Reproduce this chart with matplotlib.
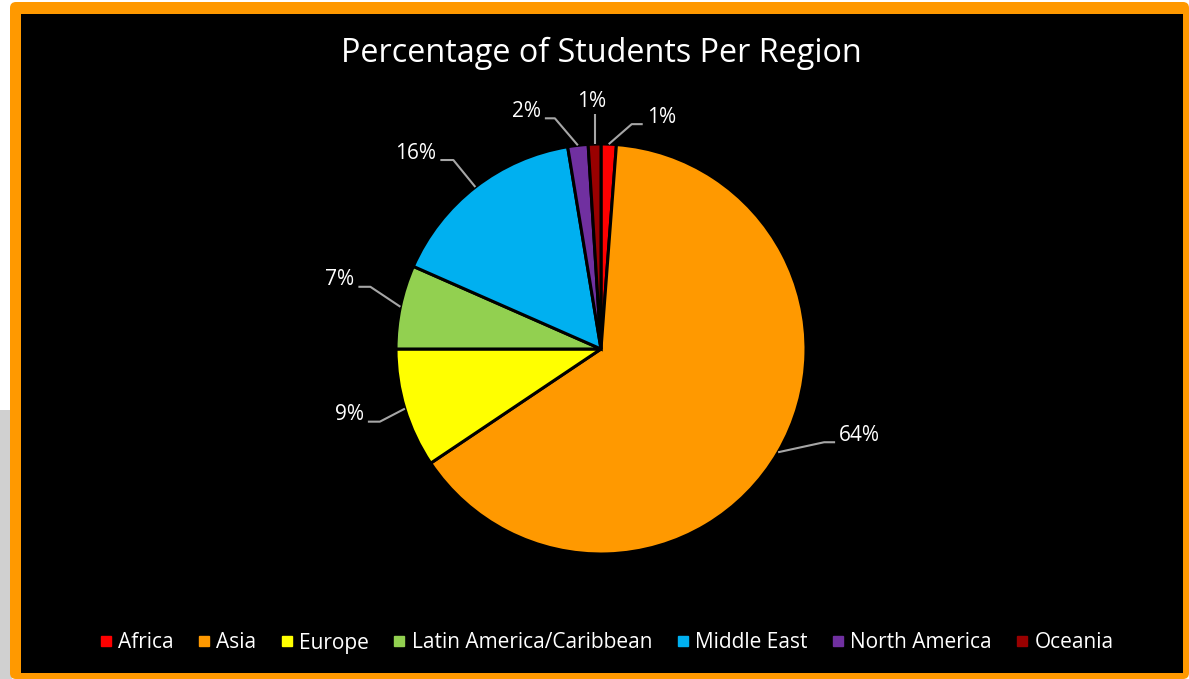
import matplotlib.pyplot as plt
import numpy as np
from matplotlib.patches import FancyBboxPatch, Rectangle
from matplotlib.lines import Line2D

# Données
regions = ["Africa", "Asia", "Europe", "Latin America/Caribbean",
           "Middle East", "North America", "Oceania"]
shares = [1.2, 64.4, 9.4, 6.6, 15.8, 1.6, 1.0]
pct_labels = ["1%", "64%", "9%", "7%", "16%", "2%", "1%"]
colors = ["#FF0000", "#FF9900", "#FFFF00", "#92D050",
          "#00B0F0", "#7030A0", "#990000"]

# Lignes de rappel : coude (dx, dy) depuis le bord, puis segment horizontal
elbow = [(23, 20), (46, 10), (-25, -13), (-30, 20), (-22, 27), (-23, 27), (0, 30)]
run = [11, 11, -12, -12, -13, -10, 0]

W, H = 1189, 679
FONT = "Open Sans"
ORANGE = "#FF9900"

fig = plt.figure(figsize=(W / 100, H / 100), dpi=100, facecolor="white")
ax = fig.add_axes([0, 0, 1, 1])

# fond : ombre grise, cadre orange, zone noire
ax.add_patch(Rectangle((0, 0), 12, H - 410, facecolor="#D0D0D0", edgecolor="none", zorder=0))
ax.add_patch(FancyBboxPatch((10, 0), W - 10, H - 2, boxstyle="round,pad=0,rounding_size=6",
                            facecolor=ORANGE, edgecolor="none", zorder=1))
ax.add_patch(Rectangle((21, 6), 1162, 659, facecolor="black", edgecolor="none", zorder=2))

cx, cy, R = 601, 330, 205
wedges, _ = ax.pie(shares, colors=colors, startangle=90, counterclock=False,
                   center=(cx, cy), radius=R, frame=True,
                   wedgeprops=dict(edgecolor="black", linewidth=2.2, zorder=3))
for w in wedges:
    w.set_zorder(3)

# étiquettes avec lignes de rappel
for w, lab, (dx, dy), r in zip(wedges, pct_labels, elbow, run):
    ang = np.deg2rad((w.theta1 + w.theta2) / 2)
    x0, y0 = cx + R * np.cos(ang), cy + R * np.sin(ang)
    x1, y1 = x0 + dx, y0 + dy
    x2 = x1 + r
    ax.plot([x0, x1, x2], [y0, y1, y1], color="#A6A6A6", lw=1.5, zorder=4,
            solid_capstyle="butt")
    if r > 0:
        ax.text(x2 + 4, y1 + 7, lab, ha="left", va="center", color="white",
                fontsize=15, family=FONT, zorder=5)
    elif r < 0:
        ax.text(x2 - 4, y1 + 7, lab, ha="right", va="center", color="white",
                fontsize=15, family=FONT, zorder=5)
    else:
        ax.text(x1 - 3, y1 + 2, lab, ha="center", va="bottom", color="white",
                fontsize=15, family=FONT, zorder=5)

ax.set_xlim(0, W)
ax.set_ylim(0, H)
ax.set_aspect("auto")
ax.axis("off")

ax.text(601, H - 53, "Percentage of Students Per Region", ha="center", va="center",
        color="white", fontsize=23.3, family=FONT, zorder=5)

handles = [Line2D([], [], marker="s", ls="", markersize=6.5, color=c) for c in colors]
fig.legend(handles, regions, loc="center", bbox_to_anchor=(607 / W, 1 - 643 / H),
           ncol=7, frameon=False, handlelength=0.5, handletextpad=0.35,
           columnspacing=1.2, labelcolor="white", prop=dict(family=FONT, size=15))

fig.savefig("out.png", dpi=100, facecolor="white")
